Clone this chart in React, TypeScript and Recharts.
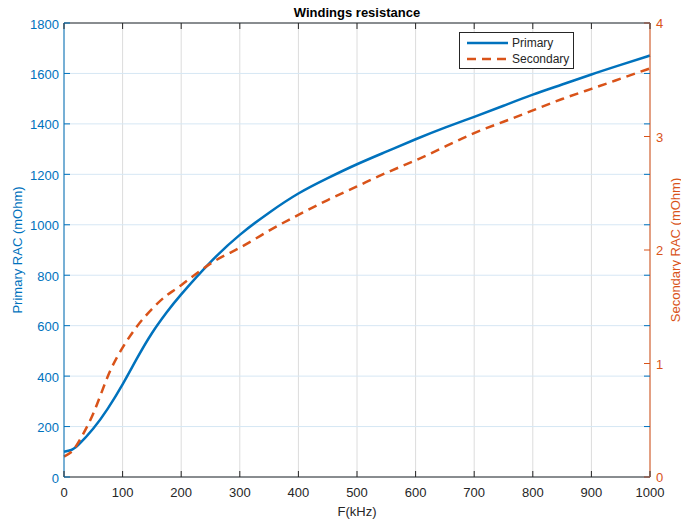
import React from 'react';
import { LineChart, Line, XAxis, YAxis, CartesianGrid, ReferenceLine } from 'recharts';

// Frequency (kHz) and winding AC resistance
const freqKHz = [0, 12.5, 25, 50, 75, 100, 125, 150, 175, 200, 250, 300, 350, 400, 450, 500, 550, 600, 650, 700, 750, 800, 850, 900, 950, 1000];
const primaryRac = [100, 107, 128, 192, 272, 367, 472, 570, 652, 724, 852, 960, 1048, 1124, 1185, 1240, 1290, 1339, 1385, 1428, 1472, 1516, 1556, 1596, 1634, 1671];
const secondaryRac = [0.18, 0.22, 0.31, 0.56, 0.89, 1.14, 1.33, 1.48, 1.6, 1.69, 1.88, 2.02, 2.17, 2.31, 2.44, 2.56, 2.68, 2.79, 2.91, 3.03, 3.13, 3.23, 3.33, 3.42, 3.51, 3.6];

const xTicks = [0, 100, 200, 300, 400, 500, 600, 700, 800, 900, 1000];
const leftTicks = [0, 200, 400, 600, 800, 1000, 1200, 1400, 1600, 1800];
const rightTicks = [0, 1, 2, 3, 4];

const legendNames = ['Primary', 'Secondary'];

const W = 681;
const H = 522;
const PLOT_LEFT = 64;
const PLOT_RIGHT = 650;
const PLOT_TOP = 23;
const PLOT_BOTTOM = 477;

const BLUE = '#0072BD';
const ORANGE = '#D95319';
const DARK = '#262626';
const FONT = '"Liberation Sans", Arial, Helvetica, sans-serif';

const data = freqKHz.map((f, i) => ({ f, primary: primaryRac[i], secondary: secondaryRac[i] }));

const XTick = (props: any) => {
  const { x, payload } = props;
  return (
    <g>
      <line x1={x} x2={x} y1={PLOT_BOTTOM} y2={PLOT_BOTTOM - 6} stroke={DARK} />
      <line x1={x} x2={x} y1={PLOT_TOP} y2={PLOT_TOP + 6} stroke={DARK} />
      <text x={x} y={PLOT_BOTTOM + 20} textAnchor="middle" fontSize={13} fill={DARK} fontFamily={FONT}>
        {payload.value}
      </text>
    </g>
  );
};

const LeftTick = (props: any) => {
  const { y, payload } = props;
  return (
    <g>
      <line x1={PLOT_LEFT} x2={PLOT_LEFT + 6} y1={y} y2={y} stroke={BLUE} />
      <line x1={PLOT_RIGHT} x2={PLOT_RIGHT - 6} y1={y} y2={y} stroke={BLUE} />
      <text x={PLOT_LEFT - 5} y={y + 5.5} textAnchor="end" fontSize={13} fill={BLUE} fontFamily={FONT}>
        {payload.value}
      </text>
    </g>
  );
};

const RightTick = (props: any) => {
  const { y, payload } = props;
  return (
    <g>
      <line x1={PLOT_RIGHT} x2={PLOT_RIGHT - 6} y1={y} y2={y} stroke={ORANGE} />
      <text x={PLOT_RIGHT + 6} y={y + 5} textAnchor="start" fontSize={13} fill={ORANGE} fontFamily={FONT}>
        {payload.value}
      </text>
    </g>
  );
};

const Legend = () => (
  <svg width={116} height={38} style={{ position: 'absolute', left: 459, top: 32 }}>
    <rect x={0.5} y={0.5} width={114} height={36} fill="#fff" stroke={DARK} strokeWidth={1} />
    <line x1={8} x2={49} y1={11} y2={11} stroke={BLUE} strokeWidth={2.5} />
    <line x1={8} x2={49} y1={27} y2={27} stroke={ORANGE} strokeWidth={2.5} strokeDasharray="9 6" />
    <text x={53} y={15} fontSize={12} fill={DARK} fontFamily={FONT}>{legendNames[0]}</text>
    <text x={53} y={31} fontSize={12} fill={DARK} fontFamily={FONT}>{legendNames[1]}</text>
  </svg>
);

export default function App() {
  return (
    <div style={{ position: 'absolute', left: 0, top: 0, width: W, height: H, background: '#fff' }}>
      <div
        style={{
          position: 'absolute',
          left: PLOT_LEFT,
          width: PLOT_RIGHT - PLOT_LEFT,
          top: 6,
          textAlign: 'center',
          fontFamily: FONT,
          fontWeight: 'bold',
          fontSize: 13,
          lineHeight: '13px',
          color: '#000',
        }}
      >
        Windings resistance
      </div>
      <LineChart width={W} height={H} data={data} margin={{ top: PLOT_TOP, right: 0, bottom: 0, left: 0 }}>
        <CartesianGrid yAxisId="left" horizontal={false} stroke="#dcdcdc" />
        <CartesianGrid yAxisId="left" vertical={false} stroke="#d6e7f4" />
        <XAxis
          dataKey="f"
          type="number"
          domain={[0, 1000]}
          ticks={xTicks}
          height={H - PLOT_BOTTOM}
          tickSize={0}
          tickMargin={0}
          tickLine={false}
          tick={XTick}
          axisLine={{ stroke: DARK }}
          label={{
            content: (p: any) => (
              <text
                x={p.viewBox.x + p.viewBox.width / 2}
                y={516}
                textAnchor="middle"
                fontSize={13}
                fill={DARK}
                fontFamily={FONT}
              >
                F(kHz)
              </text>
            ),
          }}
        />
        <YAxis
          yAxisId="left"
          orientation="left"
          width={PLOT_LEFT}
          domain={[0, 1800]}
          ticks={leftTicks}
          tickSize={0}
          tickMargin={0}
          tickLine={false}
          tick={LeftTick}
          axisLine={{ stroke: BLUE }}
          label={{
            content: (p: any) => {
              const cy = p.viewBox.y + p.viewBox.height / 2;
              return (
                <text
                  x={17}
                  y={cy}
                  transform={`rotate(-90, 17, ${cy})`}
                  textAnchor="middle"
                  dominantBaseline="central"
                  fontSize={13}
                  fill={BLUE}
                  fontFamily={FONT}
                >
                  Primary RAC (mOhm)
                </text>
              );
            },
          }}
        />
        <YAxis
          yAxisId="right"
          orientation="right"
          width={W - PLOT_RIGHT}
          domain={[0, 4]}
          ticks={rightTicks}
          tickSize={0}
          tickMargin={0}
          tickLine={false}
          tick={RightTick}
          axisLine={{ stroke: ORANGE }}
          label={{
            content: (p: any) => {
              const cy = p.viewBox.y + p.viewBox.height / 2;
              return (
                <text
                  x={675}
                  y={cy}
                  transform={`rotate(-90, 675, ${cy})`}
                  textAnchor="middle"
                  dominantBaseline="central"
                  fontSize={13}
                  fill={ORANGE}
                  fontFamily={FONT}
                >
                  Secondary RAC (mOhm)
                </text>
              );
            },
          }}
        />
        <ReferenceLine yAxisId="left" y={1800} stroke={DARK} />
        <Line
          yAxisId="left"
          type="natural"
          dataKey="primary"
          stroke={BLUE}
          strokeWidth={2.5}
          dot={false}
          activeDot={false}
          isAnimationActive={false}
        />
        <Line
          yAxisId="right"
          type="natural"
          dataKey="secondary"
          stroke={ORANGE}
          strokeWidth={2.5}
          strokeDasharray="9 6"
          dot={false}
          activeDot={false}
          isAnimationActive={false}
        />
      </LineChart>
      <Legend />
    </div>
  );
}
